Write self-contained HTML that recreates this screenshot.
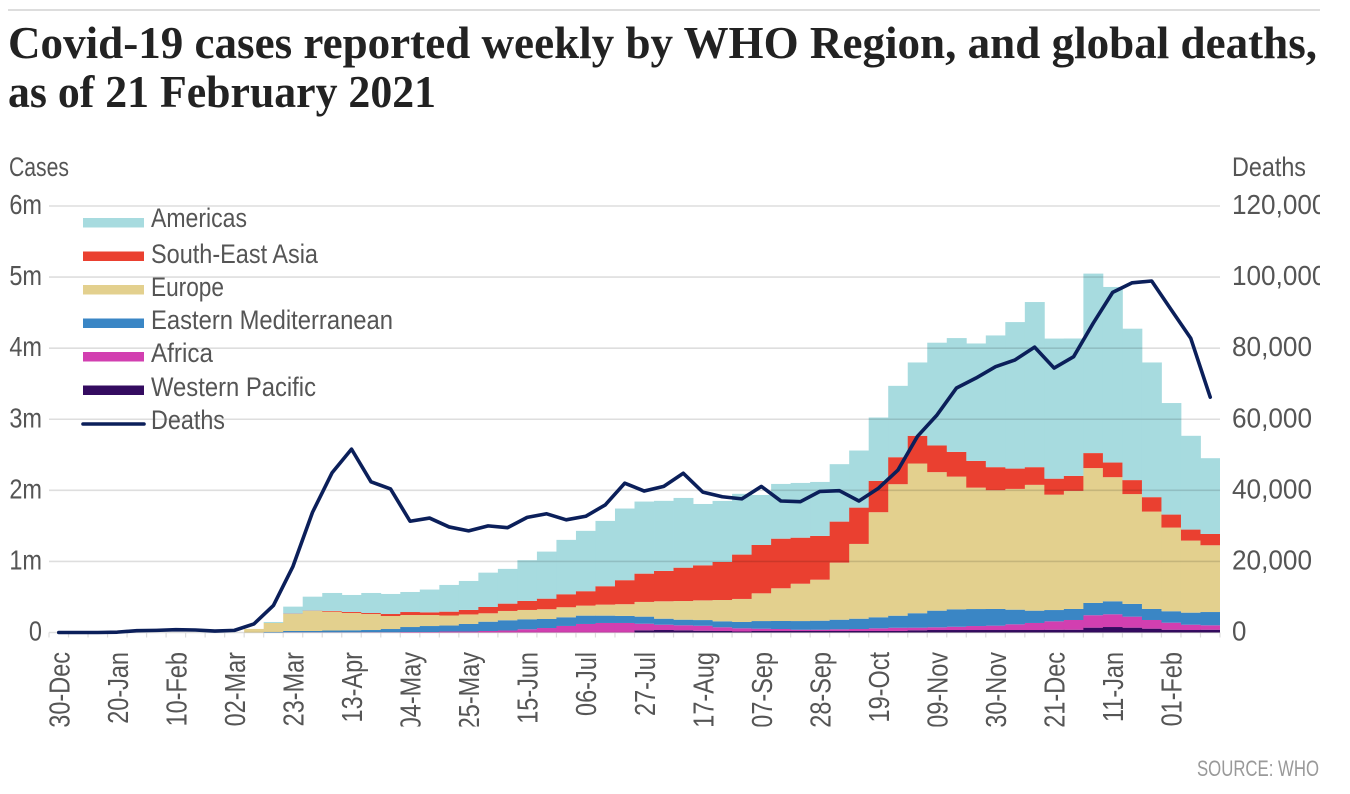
<!DOCTYPE html>
<html lang="en">
<head>
<meta charset="utf-8">
<title>Covid-19 cases reported weekly by WHO Region</title>
<style>
html,body{margin:0;padding:0;background:#fff;width:1350px;height:794px;overflow:hidden}
svg{display:block}
text{font-family:"Liberation Sans",sans-serif;fill:#555}
.title{font-family:"Liberation Serif",serif;font-weight:700;font-size:46px;fill:#222}
</style>
</head>
<body>
<svg id="chart" xmlns="http://www.w3.org/2000/svg" width="1350" height="794" viewBox="0 0 1350 794">
  <defs>
    <clipPath id="page-clip"><rect x="0" y="0" width="1320" height="794"></rect></clipPath>
    <clipPath id="xlabel-clip"><rect x="0" y="640" width="1320" height="86.5"></rect></clipPath>
  </defs>
  <rect x="8" y="9" width="1312" height="2" fill="#dddddd"></rect>
  <text class="title" x="8" y="58" textLength="1309" lengthAdjust="spacingAndGlyphs">Covid-19 cases reported weekly by WHO Region, and global deaths,</text>
  <text class="title" x="8" y="107" textLength="428" lengthAdjust="spacingAndGlyphs">as of 21 February 2021</text>
  <text x="9" y="176" font-size="27" textLength="60" lengthAdjust="spacingAndGlyphs">Cases</text>
  <text x="1232" y="176" font-size="27" textLength="74" lengthAdjust="spacingAndGlyphs">Deaths</text>
  <g id="stacks"></g>
  <g id="grid"></g>
  <g id="xticks"></g>
  <g id="xlabels" clip-path="url(#xlabel-clip)"></g>
  <g id="ylabels"></g>
  <g id="rlabels" clip-path="url(#page-clip)"></g>
  <path id="deaths-line" fill="none" stroke="#0b1f5a" stroke-width="3.6" stroke-linejoin="round" stroke-linecap="round"></path>
  <g id="legend">
    <g><rect x="83" y="218" width="61" height="9.5" fill="#a7dbdf"></rect><text x="151" y="227" font-size="27" textLength="96" lengthAdjust="spacingAndGlyphs">Americas</text></g>
    <g><rect x="83" y="251.5" width="61" height="9.5" fill="#ea4030"></rect><text x="151" y="263" font-size="27" textLength="167" lengthAdjust="spacingAndGlyphs">South-East Asia</text></g>
    <g><rect x="83" y="285" width="61" height="9.5" fill="#e3d08e"></rect><text x="151" y="296" font-size="27" textLength="73" lengthAdjust="spacingAndGlyphs">Europe</text></g>
    <g><rect x="83" y="318.5" width="61" height="9.5" fill="#3a86c5"></rect><text x="151" y="329" font-size="27" textLength="242" lengthAdjust="spacingAndGlyphs">Eastern Mediterranean</text></g>
    <g><rect x="83" y="352" width="61" height="9.5" fill="#d23fb0"></rect><text x="151" y="362" font-size="27" textLength="62" lengthAdjust="spacingAndGlyphs">Africa</text></g>
    <g><rect x="83" y="385.5" width="61" height="9.5" fill="#340b60"></rect><text x="151" y="396" font-size="27" textLength="165" lengthAdjust="spacingAndGlyphs">Western Pacific</text></g>
    <g><line x1="83" x2="144" y1="424" y2="424" stroke="#0b1f5a" stroke-width="3.6" stroke-linecap="round"></line><text x="151" y="429" font-size="27" textLength="74" lengthAdjust="spacingAndGlyphs">Deaths</text></g>
  </g>
  <text x="1197" y="776" font-size="22" style="fill:#999" textLength="122" lengthAdjust="spacingAndGlyphs">SOURCE: WHO</text>
</svg>
<script>
const categories = ["30-Dec","06-Jan","13-Jan","20-Jan","27-Jan","03-Feb","10-Feb","17-Feb","24-Feb","02-Mar","09-Mar","16-Mar","23-Mar","30-Mar","06-Apr","13-Apr","20-Apr","27-Apr","04-May","11-May","18-May","25-May","01-Jun","08-Jun","15-Jun","22-Jun","29-Jun","06-Jul","13-Jul","20-Jul","27-Jul","03-Aug","10-Aug","17-Aug","24-Aug","31-Aug","07-Sep","14-Sep","21-Sep","28-Sep","05-Oct","12-Oct","19-Oct","26-Oct","02-Nov","09-Nov","16-Nov","23-Nov","30-Nov","07-Dec","14-Dec","21-Dec","28-Dec","04-Jan","11-Jan","18-Jan","25-Jan","01-Feb","08-Feb","15-Feb"];
/* Weekly cases, thousands */
const westernPacific = [0,0,0,0,0,0,0,0,0,0,0,0,0,0,0,0,0,0,0,0,0,0,0,0,0,0,0,0,0,0,31,35,31,25,21,14,21,21,21,21,21,21,21,21,31,35,35,35,35,35,35,39,39,68,77,68,54,39,35,39];
const africa = [0,0,0,0,0,0,0,0,0,0,0,0,3,3,3,3,4,4,7,7,14,14,21,28,45,63,92,120,134,134,93,75,70,70,52,45,32,28,18,18,24,28,38,46,37,38,46,56,61,80,99,118,137,175,179,155,122,99,75,62];
const easternMediterranean = [0,0,0,0,0,0,0,0,0,0,0,7,18,18,25,28,31,45,70,84,84,106,131,144,141,127,122,117,103,99,99,84,79,80,84,89,108,113,122,127,135,145,155,169,203,234,245,239,235,206,173,159,155,173,183,179,155,161,169,187];
const europe = [0,0,0,0,0,0,0,0,0,0,50,127,240,282,265,244,225,183,169,155,141,134,118,131,131,137,141,141,155,165,207,245,263,277,300,324,390,460,525,577,803,1052,1478,1850,2106,1949,1867,1708,1671,1699,1770,1623,1661,1897,1746,1545,1370,1177,1014,939];
const southEastAsia = [0,0,0,0,0,0,0,0,0,0,0,0,4,4,10,14,14,28,42,38,54,63,89,103,127,149,183,203,259,338,398,427,469,493,535,624,680,698,648,615,577,511,441,380,390,375,348,376,324,286,249,225,211,211,206,197,203,183,155,159];
const americas = [0,0,0,0,0,0,0,0,0,0,0,14,99,197,253,239,282,282,282,320,376,408,483,489,573,662,765,849,919,1008,1014,986,981,863,859,855,704,770,770,760,808,803,891,1004,1032,1446,1601,1652,1853,2061,2323,1971,1933,2525,2470,2130,1895,1569,1319,1066];
/* Weekly deaths, thousands */
const deaths = [0,0,0,0.1,0.5,0.6,0.8,0.7,0.4,0.6,2.4,7.6,18.6,33.8,44.9,51.6,42.4,40.4,31.3,32.2,29.7,28.6,30,29.5,32.4,33.4,31.7,32.7,35.9,42,39.8,41.1,44.8,39.5,38.2,37.6,41.1,37,36.8,39.7,39.9,37,40.6,45.7,55.2,61.2,68.8,71.6,74.8,76.7,80.3,74.4,77.6,87,95.7,98.4,98.9,90.8,82.8,66.2];
const leftTicks = [0,1000,2000,3000,4000,5000,6000];
const leftTickLabels = ["0","1m","2m","3m","4m","5m","6m"];
const rightTicks = [0,20,40,60,80,100,120];
const rightTickLabels = ["0","20,000","40,000","60,000","80,000","100,000","120,000"];
const xLabelEvery = 3;

const NS = "http://www.w3.org/2000/svg";
const plotLeft = 49, plotRight = 1220, plotBottom = 632.5, plotTop = 206;
const band = (plotRight - plotLeft) / categories.length;
function xEdge(i){ return plotLeft + i * band; }
function xCenter(i){ return plotLeft + (i + 0.5) * band; }
function yCases(v){ return plotBottom - v / 6000 * (plotBottom - plotTop); }
function yDeaths(v){ return plotBottom - v / 120 * (plotBottom - plotTop); }
function make(tag, parent){
  const el = document.createElementNS(NS, tag);
  parent.appendChild(el);
  return el;
}

const stackSeries = [
  { key: "western-pacific", values: westernPacific, color: "#340b60" },
  { key: "africa", values: africa, color: "#d23fb0" },
  { key: "eastern-mediterranean", values: easternMediterranean, color: "#3a86c5" },
  { key: "europe", values: europe, color: "#e3d08e" },
  { key: "south-east-asia", values: southEastAsia, color: "#ea4030" },
  { key: "americas", values: americas, color: "#a7dbdf" }
];
const stacks = document.getElementById("stacks");
categories.forEach(function(cat, i){
  let cum = 0;
  stackSeries.forEach(function(s){
    const v = s.values[i];
    if (v > 0) {
      const r = make("rect", stacks);
      
      
      r.setAttribute("x", xEdge(i));
      r.setAttribute("width", band + (i < categories.length - 1 ? 0.4 : 0));
      r.setAttribute("y", yCases(cum + v));
      r.setAttribute("height", yCases(cum) - yCases(cum + v));
      r.setAttribute("fill", s.color);
    }
    cum += v;
  });
});

const grid = document.getElementById("grid");
leftTicks.forEach(function(t){
  const l = make("line", grid);
  
  
  l.setAttribute("x1", plotLeft);
  l.setAttribute("x2", plotRight);
  l.setAttribute("y1", yCases(t));
  l.setAttribute("y2", yCases(t));
  l.setAttribute("stroke", "rgba(0,0,0,0.13)");
  l.setAttribute("stroke-width", "1.6");
});

const xticks = document.getElementById("xticks");
for (let i = 0; i <= categories.length; i++) {
  const t = make("line", xticks);
  
  
  t.setAttribute("x1", xEdge(i));
  t.setAttribute("x2", xEdge(i));
  t.setAttribute("y1", plotBottom);
  t.setAttribute("y2", plotBottom + 5);
  t.setAttribute("stroke", "#dddddd");
  t.setAttribute("stroke-width", "1.2");
}

const xlabels = document.getElementById("xlabels");
categories.forEach(function(cat, i){
  if (i % xLabelEvery !== 0) return;
  const t = make("text", xlabels);
  
  
  const x = xCenter(i) + 10.5, y = 652;
  t.setAttribute("transform", "translate(" + x + "," + y + ") rotate(-90) scale(0.81,1)");
  t.setAttribute("text-anchor", "end");
  t.setAttribute("font-size", "29");
  t.textContent = cat;
});

const ylabels = document.getElementById("ylabels");
leftTicks.forEach(function(t, i){
  const el = make("text", ylabels);
  
  
  el.setAttribute("transform", "translate(42," + (yCases(t) + 8) + ") scale(0.84,1)");
  el.setAttribute("text-anchor", "end");
  el.setAttribute("font-size", "28");
  el.textContent = leftTickLabels[i];
});

const rlabels = document.getElementById("rlabels");
rightTicks.forEach(function(t, i){
  const el = make("text", rlabels);
  
  
  el.setAttribute("x", 1232);
  el.setAttribute("y", yDeaths(t) + 8);
  el.setAttribute("font-size", "28");
  const label = rightTickLabels[i];
  const commas = label.split(",").length - 1;
  el.setAttribute("textLength", (label.length - commas) * 14.4 + commas * 8);
  el.setAttribute("lengthAdjust", "spacingAndGlyphs");
  el.textContent = label;
});

const d = deaths.map(function(v, i){
  return (i ? "L" : "M") + xCenter(i).toFixed(2) + " " + yDeaths(v).toFixed(2);
}).join(" ");
document.getElementById("deaths-line").setAttribute("d", d);
</script>
</body>
</html>
